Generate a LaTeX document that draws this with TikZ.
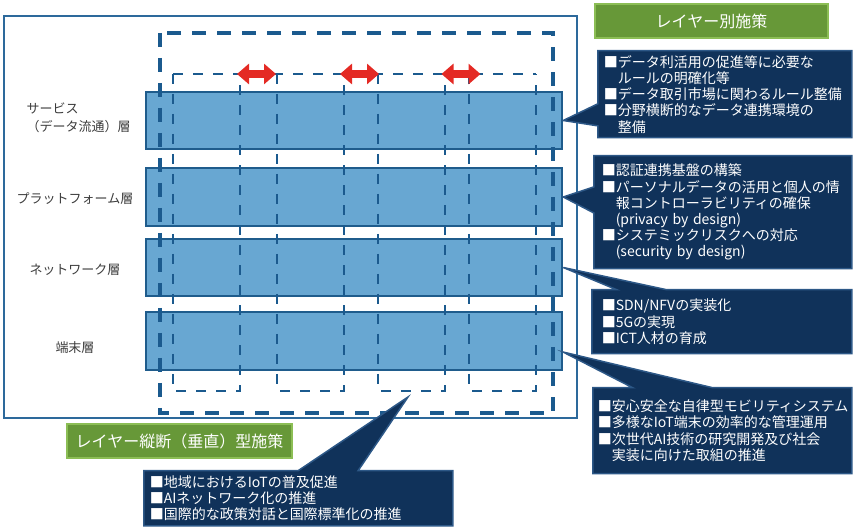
\documentclass[tikz,border=0pt]{standalone}
\usepackage{fontspec}
\setmainfont{Noto Sans CJK JP}
\usetikzlibrary{arrows.meta,shapes.callouts}

\definecolor{layerfill}{RGB}{104,167,210}
\definecolor{layerline}{RGB}{31,92,140}
\definecolor{dashblue}{RGB}{27,90,142}
\definecolor{frameblue}{RGB}{45,105,155}
\definecolor{navy}{RGB}{16,50,90}
\definecolor{navyedge}{RGB}{45,88,135}
\definecolor{grass}{RGB}{103,152,56}
\definecolor{grassedge}{RGB}{140,190,85}
\definecolor{arrowred}{RGB}{228,42,36}
\definecolor{labelgrey}{RGB}{60,60,60}

\tikzset{
  layer/.style={draw=layerline, fill=layerfill, line width=2.5pt, minimum width=416pt, minimum height=57pt, inner sep=0pt},
  lname/.style={text=labelgrey, font=\fontsize{13}{18}\selectfont, align=left},
  header/.style={draw=grassedge, fill=grass, line width=1.5pt, text=white, font=\fontsize{16}{18}\selectfont, minimum height=34pt, inner sep=0pt},
  measure/.style={rectangle callout, draw=navyedge, fill=navy, line width=1.5pt, text=white, font=\fontsize{14}{16.2}\selectfont, align=left, anchor=north west, inner xsep=6pt, inner ysep=0pt},
  bigdash/.style={dashblue, line width=3.5pt, dash pattern=on 14pt off 11pt},
  smalldash/.style={dashblue, line width=2.8pt, dash pattern=on 10pt off 10pt},
  twoway/.style={arrowred, line width=8pt, {Triangle[length=12pt,width=20pt]}-{Triangle[length=12pt,width=20pt]}},
}

\begin{document}
\begin{tikzpicture}[x=1pt,y=-1pt]
\useasboundingbox (0,0) rectangle (855,529);
\coordinate (t4) at (563,352);
\coordinate (t5) at (408,397);

\draw[frameblue, line width=1.5pt] (4,16) rectangle (577,418);

% layers
\node[layer] (svc) at (354,120.5) {};
\node[layer, minimum height=58pt] (plat) at (354,197) {};
\node[layer] (net) at (354,267.5) {};
\node[layer, minimum height=58pt] (term) at (354,341) {};

\node[lname, anchor=west] (svcname) at (23,118) {サービス\\（データ流通）層};
\node[lname] (platname) at (75,199) {プラットフォーム層};
\node[lname] (netname) at (75,270) {ネットワーク層};
\node[lname] (termname) at (75,348) {端末層};

% vertical (cross-layer) frame
\draw[bigdash] (160,33) rectangle (553,413);
\draw[smalldash] (173,74) -- (536,74);
\foreach \a/\b in {173/240, 277/344, 378/445, 469/536}
  \draw[smalldash] (\a,74) -- (\a,391) -- (\b,391) -- (\b,74);

\foreach \x [count=\i] in {256.5,359.5,461}{
  \coordinate (l\i) at (\x-19.5,74);
  \coordinate (r\i) at (\x+19.5,74);
  \draw[twoway] (l\i) -- (r\i);
}

\node[header, minimum width=233pt] (bylayer) at (711.5,21) {レイヤー別施策};
\node[header, minimum width=225pt] (across) at (179.5,441) {レイヤー縦断（垂直）型施策};

% measures
\node[measure, minimum width=254pt, minimum height=87pt, text width=242pt,
  callout absolute pointer={(svc.east)}, callout pointer width=22pt] (m1) at (597,50)
  {■データ利活用の促進等に必要な\\\phantom{■}ルールの明確化等\\■データ取引市場に関わるルール整備\\■分野横断的なデータ連携環境の\\\phantom{■}整備};
\node[measure, minimum width=258pt, minimum height=113pt, text width=242pt, inner xsep=8pt,
  callout absolute pointer={(plat.east)}, callout pointer width=26pt] (m2) at (593,155)
  {■認証連携基盤の構築\\■パーソナルデータの活用と個人の情\\\phantom{■}報コントローラビリティの確保\\\phantom{■}(privacy by design)\\■システミックリスクへの対応\\\phantom{■}(security by design)};
\node[measure, minimum width=260pt, minimum height=64pt, text width=240pt, inner xsep=10pt,
  callout absolute pointer={(net.east)}, callout pointer width=50pt] (m3) at (591,289)
  {■SDN/NFVの実装化\\■5Gの実現\\■ICT人材の育成};
\node[measure, minimum width=259pt, minimum height=86pt, text width=249pt, inner xsep=5pt,
  callout absolute pointer={(t4)}, callout pointer width=80pt] (m4) at (592,387)
  {■安心安全な自律型モビリティシステム\\■多様なIoT端末の効率的な管理運用\\■次世代AI技術の研究開発及び社会\\\phantom{■}実装に向けた取組の推進};
\node[measure, minimum width=309pt, minimum height=55pt, text width=297pt,
  callout absolute pointer={(t5)}, callout pointer width=60pt] (m5) at (143,470)
  {■地域におけるIoTの普及促進\\■AIネットワーク化の推進\\■国際的な政策対話と国際標準化の推進};
\end{tikzpicture}
\end{document}
